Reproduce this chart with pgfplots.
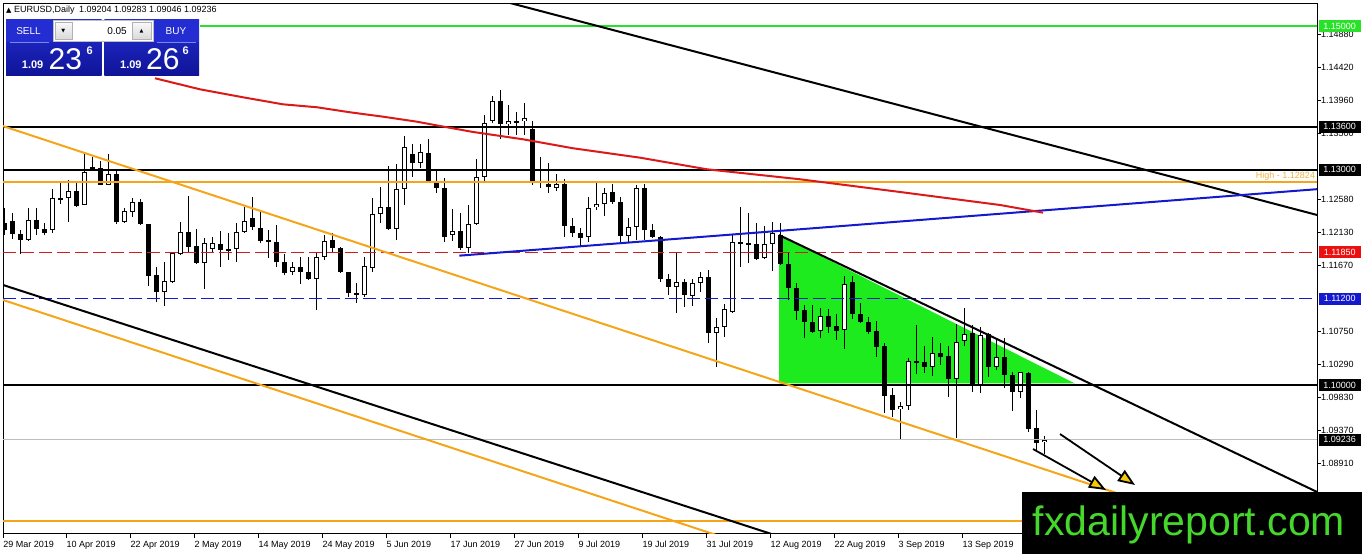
\documentclass[border=0pt]{standalone}
\usepackage{fontspec}
\setmainfont{Liberation Sans}
\newfontfamily\dejavu{DejaVu Sans}
\usepackage{pgfplots}
\pgfplotsset{compat=1.18}
\usepackage{pgfplotstable}
\usetikzlibrary{arrows.meta}

\definecolor{lvgreen}{RGB}{40,225,40}
\definecolor{trigreen}{RGB}{30,235,30}
\definecolor{lvorange}{RGB}{245,165,25}
\definecolor{hicol}{RGB}{240,175,70}
\definecolor{lvred}{RGB}{205,30,30}
\definecolor{tagred}{RGB}{235,15,15}
\definecolor{lvblue}{RGB}{20,25,205}
\definecolor{bidgray}{RGB}{190,190,190}
\definecolor{mared}{RGB}{220,25,25}
\definecolor{arrowyel}{RGB}{245,200,10}
\definecolor{panel}{RGB}{35,45,210}
\definecolor{paneldk}{RGB}{15,20,150}
\definecolor{sepblue}{RGB}{120,135,235}
\definecolor{logogreen}{RGB}{70,215,45}

\newcommand\lbl{\fontsize{9}{10}\selectfont}

% bar index, open, high, low, close (EURUSD daily)
\pgfplotstableread{
i O H L C
0 1.12252 1.12461 1.12089 1.12159
1 1.12284 1.12391 1.12029 1.12099
2 1.12099 1.12159 1.11824 1.12019
3 1.12019 1.12461 1.12010 1.12298
4 1.12298 1.12461 1.12089 1.12168
5 1.12168 1.12252 1.12089 1.12113
6 1.12159 1.12726 1.12121 1.12600
7 1.12600 1.12831 1.12521 1.12595
8 1.12600 1.12855 1.12274 1.12706
9 1.12706 1.12831 1.12483 1.12493
10 1.12503 1.13217 1.12503 1.12962
11 1.13032 1.13180 1.12985 1.13004
12 1.13018 1.13124 1.12781 1.12781
13 1.12781 1.13217 1.12781 1.12939
14 1.12939 1.13004 1.12238 1.12274
15 1.12274 1.12461 1.12260 1.12423
16 1.12405 1.12600 1.12336 1.12545
17 1.12545 1.12586 1.12228 1.12238
18 1.12238 1.12238 1.11379 1.11522
19 1.11532 1.11648 1.11160 1.11291
20 1.11291 1.11717 1.11104 1.11453
21 1.11439 1.11856 1.11425 1.11834
22 1.11824 1.12274 1.11811 1.12127
23 1.12127 1.12632 1.11856 1.11926
24 1.11936 1.12168 1.11685 1.11695
25 1.11695 1.12043 1.11333 1.11973
26 1.11890 1.12057 1.11834 1.11973
27 1.11960 1.12149 1.11648 1.11880
28 1.11894 1.12121 1.11741 1.11870
29 1.11890 1.12252 1.11717 1.12127
30 1.12127 1.12483 1.12113 1.12288
31 1.12322 1.12614 1.12159 1.12196
32 1.12182 1.12414 1.11982 1.12010
33 1.12019 1.12159 1.11765 1.11987
34 1.11987 1.12228 1.11639 1.11717
35 1.11717 1.11824 1.11532 1.11556
36 1.11570 1.11717 1.11532 1.11639
37 1.11639 1.11787 1.11407 1.11570
38 1.11570 1.11787 1.11462 1.11476
39 1.11476 1.11856 1.11044 1.11787
40 1.11787 1.12089 1.11741 1.12006
41 1.12019 1.12121 1.11843 1.11904
42 1.11904 1.11918 1.11556 1.11570
43 1.11570 1.11578 1.11221 1.11277
44 1.11277 1.11416 1.11138 1.11258
45 1.11253 1.11778 1.11230 1.11661
46 1.11625 1.12600 1.11578 1.12377
47 1.12377 1.12753 1.12252 1.12483
48 1.12483 1.13054 1.12159 1.12173
49 1.12173 1.13078 1.12019 1.12726
50 1.12726 1.13468 1.12503 1.13311
51 1.13217 1.13356 1.12901 1.13088
52 1.13088 1.13356 1.13018 1.13241
53 1.13227 1.13422 1.12831 1.12845
54 1.12845 1.12994 1.12670 1.12740
55 1.12740 1.12879 1.11996 1.12065
56 1.12085 1.12447 1.12010 1.12149
57 1.12149 1.12400 1.11880 1.11904
58 1.11904 1.12507 1.11834 1.12238
59 1.12238 1.13152 1.12228 1.12893
60 1.12901 1.13760 1.12831 1.13653
61 1.13681 1.14025 1.13645 1.13960
62 1.13960 1.14109 1.13422 1.13631
63 1.13631 1.13900 1.13482 1.13673
64 1.13673 1.13798 1.13482 1.13663
65 1.13673 1.13923 1.13482 1.13714
66 1.13561 1.13681 1.12785 1.12831
67 1.12831 1.13180 1.12740 1.12823
68 1.12799 1.13088 1.12670 1.12753
69 1.12740 1.12934 1.12706 1.12795
70 1.12799 1.12865 1.12057 1.12219
71 1.12219 1.12322 1.12057 1.12113
72 1.12113 1.12182 1.11940 1.12043
73 1.12057 1.12623 1.11987 1.12469
74 1.12475 1.12845 1.12437 1.12517
75 1.12521 1.12740 1.12358 1.12670
76 1.12684 1.12799 1.12521 1.12545
77 1.12545 1.12623 1.11996 1.12079
78 1.12079 1.12322 1.11987 1.12205
79 1.12205 1.12785 1.12019 1.12740
80 1.12740 1.12799 1.12019 1.12159
81 1.12159 1.12242 1.12043 1.12057
82 1.12057 1.12075 1.11439 1.11476
83 1.11476 1.11546 1.11253 1.11369
84 1.11369 1.11856 1.10998 1.11439
85 1.11439 1.11472 1.11090 1.11253
86 1.11239 1.11472 1.11100 1.11416
87 1.11425 1.11578 1.11299 1.11508
88 1.11508 1.11602 1.10581 1.10720
89 1.10720 1.10929 1.10255 1.10812
90 1.10812 1.11128 1.10673 1.11054
91 1.11012 1.12103 1.10998 1.11996
92 1.11996 1.12475 1.11648 1.11973
93 1.11973 1.12391 1.11695 1.11960
94 1.11960 1.12260 1.11741 1.11755
95 1.11765 1.12214 1.11751 1.11964
96 1.11964 1.12274 1.11592 1.12113
97 1.12089 1.12252 1.11671 1.11681
98 1.11681 1.11838 1.11184 1.11355
99 1.11355 1.11416 1.10905 1.11035
100 1.11044 1.11114 1.10650 1.10873
101 1.10882 1.11114 1.10724 1.10742
102 1.10752 1.11068 1.10650 1.10965
103 1.10965 1.11054 1.10720 1.10812
104 1.10822 1.10989 1.10627 1.10756
105 1.10766 1.11518 1.10497 1.11402
106 1.11430 1.11518 1.10923 1.10985
107 1.10985 1.11138 1.10859 1.10873
108 1.10873 1.10951 1.10710 1.10738
109 1.10752 1.10895 1.10394 1.10533
110 1.10543 1.10581 1.09606 1.09851
111 1.09861 1.09954 1.09558 1.09652
112 1.09661 1.09767 1.09234 1.09712
113 1.09712 1.10372 1.09652 1.10330
114 1.10330 1.10836 1.10153 1.10324
115 1.10316 1.10543 1.10163 1.10255
116 1.10246 1.10673 1.10129 1.10441
117 1.10441 1.10589 1.10278 1.10394
118 1.10404 1.10543 1.09829 1.10079
119 1.10079 1.10845 1.09257 1.10603
120 1.10613 1.11068 1.10543 1.10706
121 1.10720 1.10836 1.09907 1.09990
122 1.10000 1.10804 1.09884 1.10696
123 1.10710 1.10728 1.10115 1.10255
124 1.10255 1.10650 1.10209 1.10394
125 1.10394 1.10650 1.09954 1.10139
126 1.10139 1.10185 1.09642 1.09907
127 1.09907 1.10185 1.09815 1.10177
128 1.10163 1.10185 1.09349 1.09387
129 1.09397 1.09652 1.09071 1.09188
130 1.09204 1.09283 1.09046 1.09236
}\candles

% 200-bar moving average
\pgfplotstableread{
i ma
18.875 1.14272
24.5 1.14118
29.875 1.14007
34.875 1.13909
39.125 1.13868
43.25 1.13798
47.375 1.13737
51.625 1.13667
54.5 1.13607
58.625 1.13524
64.875 1.13422
71.125 1.13297
79.5 1.13166
87.875 1.13004
99.5 1.12865
112 1.12688
124.5 1.12507
129.875 1.12400
}\mavg

\pgfplotsset{
  hline/.style={line width=2pt},
  % a vertical stroke per bar, drawn as a symmetric y error bar
  stroke/.style 2 args={draw=none, mark=none, forget plot,
    error bars/y dir=both, error bars/y explicit, error bars/error mark=none,
    error bars/error bar style={draw=#1, line width=#2, solid}},
}
\tikzset{
  tag/.style={anchor=west, xshift=1.5pt, inner sep=0pt, minimum width=42pt,
    minimum height=12pt, text=white, font=\lbl},
}

\begin{document}
\begin{tikzpicture}
\begin{axis}[
  at={(3pt,20pt)}, anchor=south west,
  width=1314pt, height=530pt, scale only axis,
  xmin=-0.125, xmax=164.125,
  ymin=1.079245, ymax=1.153064,
  clip mode=individual,
  axis line style={black, line width=1pt},
  tick style={black, line width=0.8pt},
  tick align=outside, major tick length=4pt,
  xtick pos=bottom, ytick pos=right, yticklabel pos=right,
  xtick={-0.1,7.8,15.8,23.8,31.8,39.8,47.8,55.8,63.8,71.8,79.8,87.8,95.8,103.8,111.8,119.8},
  xticklabels={29 Mar 2019,10 Apr 2019,22 Apr 2019,2 May 2019,14 May 2019,24 May 2019,
    5 Jun 2019,17 Jun 2019,27 Jun 2019,9 Jul 2019,19 Jul 2019,31 Jul 2019,
    12 Aug 2019,22 Aug 2019,3 Sep 2019,13 Sep 2019},
  xticklabel style={anchor=north west, inner sep=0pt, yshift=-3pt},
  ytick={1.0845,1.0891,1.0937,1.0983,1.1029,1.1075,1.1167,1.1213,1.1258,
    1.1350,1.1396,1.1442,1.1488},
  yticklabel style={anchor=west, inner sep=0pt},
  tick label style={font=\lbl},
  scaled y ticks=false,
  /pgf/number format/fixed, /pgf/number format/fixed zerofill,
  /pgf/number format/precision=5, /pgf/number format/assume math mode=true,
]

% green triangle (behind the candles)
\addplot[fill=trigreen, draw=none] coordinates {
  (96.875,1.12089) (96.875,1.10021) (133.875,1.10021)} -- cycle;

% candles: wick, body, white inside of rising bodies
\addplot[stroke={black}{1pt}]
  table[x=i, y expr={(\thisrow{H}+\thisrow{L})/2},
        y error expr={(\thisrow{H}-\thisrow{L})/2}] {\candles};
\addplot[stroke={black}{5pt}]
  table[x=i, y expr={(\thisrow{O}+\thisrow{C})/2},
        y error expr={max(abs(\thisrow{C}-\thisrow{O})/2,0.00007)}] {\candles};
\addplot[stroke={white}{3pt},
  restrict expr to domain={\thisrow{C}-\thisrow{O}}{0.0003:1}]
  table[x=i, y expr={(\thisrow{O}+\thisrow{C})/2},
        y error expr={(\thisrow{C}-\thisrow{O})/2-0.00014}] {\candles};

% horizontal levels
\addplot[lvgreen, hline] coordinates {(24.5,1.15) (164.125,1.15)};
\addplot[black, hline] coordinates {(-0.125,1.136) (164.125,1.136)};
\addplot[black, hline] coordinates {(-0.125,1.13) (164.125,1.13)};
\addplot[lvorange, hline] coordinates {(-0.125,1.12824) (164.125,1.12824)};
\addplot[lvred, line width=1pt, dash pattern=on 13pt off 5pt] coordinates {(-0.125,1.1185) (164.125,1.1185)};
\addplot[lvblue, line width=1pt, dash pattern=on 13pt off 5pt] coordinates {(-0.125,1.112) (164.125,1.112)};
\addplot[black, hline] coordinates {(-0.125,1.10) (164.125,1.10)};
\addplot[bidgray, line width=1pt] coordinates {(-0.125,1.09236) (164.125,1.09236)};
\addplot[lvorange, hline] coordinates {(-0.125,1.08106) (164.125,1.08106)};

% trend lines
\addplot[lvorange, hline] coordinates {(-0.16,1.13607) (164.1,1.07576)};
\addplot[lvorange, hline] coordinates {(-0.125,1.11184) (97,1.07618)};
\addplot[black, hline] coordinates {(-0.125,1.11393) (99.5,1.07796)};
\addplot[black, hline] coordinates {(61.25,1.15379) (164.125,1.12368)};
\addplot[black, hline] coordinates {(96.875,1.12089) (164.125,1.08510)};
\addplot[lvblue, hline] coordinates {(56.91,1.11801) (164.125,1.12727)};

% moving average
\addplot[mared, hline] table[x=i, y=ma] {\mavg};

% arrows
\addplot[black, line width=1.8pt, -{Triangle[length=17pt, width=13pt, fill=arrowyel]}]
  coordinates {(132,1.09317) (141.375,1.08607)};
\addplot[black, line width=1.8pt, -{Triangle[length=17pt, width=13pt, fill=arrowyel]}]
  coordinates {(128.625,1.09108) (137.75,1.08537)};

% price tags
\node[tag, fill=lvgreen] at (axis cs:164.125,1.15) {1.15000};
\node[tag, fill=black] at (axis cs:164.125,1.136) {1.13600};
\node[tag, fill=black] at (axis cs:164.125,1.13) {1.13000};
\node[tag, fill=tagred] at (axis cs:164.125,1.1185) {1.11850};
\node[tag, fill=lvblue] at (axis cs:164.125,1.112) {1.11200};
\node[tag, fill=black] at (axis cs:164.125,1.10) {1.10000};
\node[tag, fill=black] at (axis cs:164.125,1.09236) {1.09236};
\node[anchor=south east, inner sep=0pt, text=hicol, font=\lbl, yshift=2pt]
  at (axis cs:163.9,1.12824) {High - 1.12824};
\end{axis}

\begin{scope}[x=1pt,y=1pt]
% header line
\node[anchor=west, inner sep=0pt, font=\lbl] at (6,544)
  {{\dejavu\fontsize{7}{8}\selectfont ▲} EURUSD,Daily\enspace 1.09204 1.09283 1.09046 1.09236};

% one-click trading panel
\shade[top color=panel, bottom color=paneldk] (6,478) rectangle (101.7,534);
\shade[top color=panel, bottom color=paneldk] (104.3,478) rectangle (199,534);
\fill[panel] (6,512.3) rectangle (101.7,534);
\fill[panel] (104.3,512.3) rectangle (199,534);
\draw[sepblue, line width=0.8pt] (10,512) -- (49,512);
\draw[sepblue, line width=0.8pt] (157,512) -- (196,512);
\fill[white] (52.7,512.3) rectangle (152.7,534);
\draw[gray!50] (52.7,512.3) rectangle (152.7,534);
\shade[top color=gray!5, bottom color=gray!30, draw=gray!60] (55,514.5) rectangle (71.7,531.5);
\shade[top color=gray!5, bottom color=gray!30, draw=gray!60] (132.3,514.5) rectangle (150.7,531.5);
\node[font=\dejavu\fontsize{5}{6}\selectfont] at (63.4,523) {▼};
\node[font=\dejavu\fontsize{5}{6}\selectfont] at (141.5,523) {▲};
\node[anchor=east, inner sep=0pt, font=\fontsize{10}{12}\selectfont] at (127,523) {0.05};
\node[text=white, inner sep=0pt, font=\fontsize{10}{12}\selectfont] at (28.5,523) {SELL};
\node[text=white, inner sep=0pt, font=\fontsize{10}{12}\selectfont] at (176,523) {BUY};
\node[text=white, anchor=base west, inner sep=0pt, font=\bfseries\fontsize{11}{12}\selectfont] at (21.7,485.7) {1.09};
\node[text=white, anchor=base west, inner sep=0pt, font=\fontsize{30}{30}\selectfont] at (48.5,484) {23};
\node[text=white, anchor=north west, inner sep=0pt, font=\bfseries\fontsize{11}{12}\selectfont] at (86.5,507.5) {6};
\node[text=white, anchor=base west, inner sep=0pt, font=\bfseries\fontsize{11}{12}\selectfont] at (120,485.7) {1.09};
\node[text=white, anchor=base west, inner sep=0pt, font=\fontsize{30}{30}\selectfont] at (146,484) {26};
\node[text=white, anchor=north west, inner sep=0pt, font=\bfseries\fontsize{11}{12}\selectfont] at (182.5,507.5) {6};

% watermark
\fill[black] (1022,0) rectangle (1362,62);
\node[anchor=base, inner sep=0pt, text=logogreen, font=\fontsize{41}{41}\selectfont] at (1189,19) {fxdailyreport.com};

\pgfresetboundingbox
\path[use as bounding box] (0,0) rectangle (1362,554);
\end{scope}
\end{tikzpicture}
\end{document}
